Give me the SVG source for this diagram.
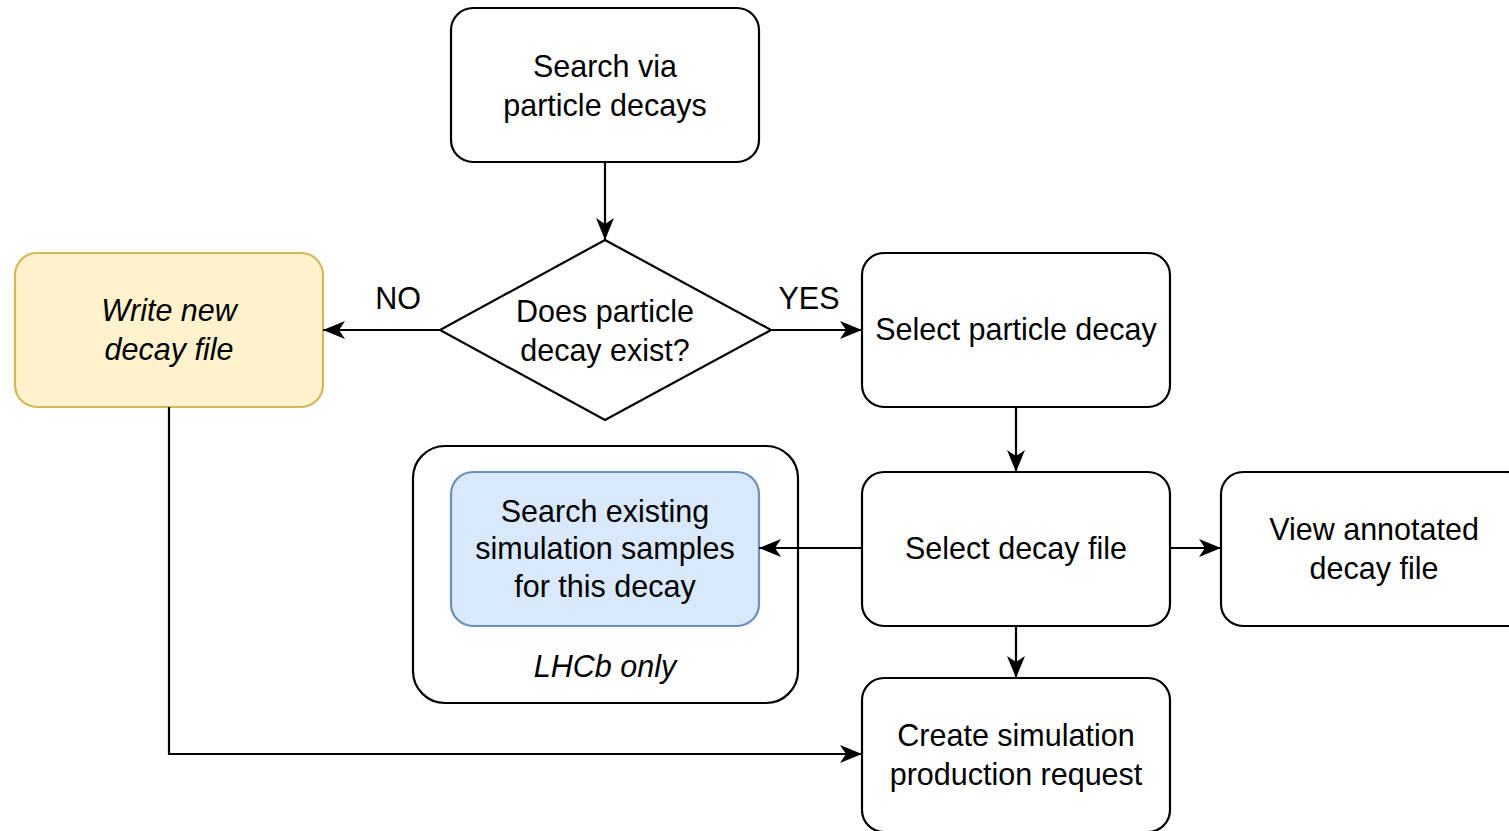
<svg xmlns="http://www.w3.org/2000/svg" width="1509" height="831" viewBox="0 0 1509 831">
<style>
.box{fill:#ffffff;stroke:#000000;stroke-width:2.2}
.yellow{fill:#fff2cc;stroke:#d6b656;stroke-width:2.2}
.blue{fill:#dae8fc;stroke:#6c8ebf;stroke-width:2.2}
.t{font-family:"Liberation Sans",Arial,sans-serif;font-size:30.5px;fill:#000000;text-anchor:middle}
.i{font-style:italic}
.edge{fill:none;stroke:#000000;stroke-width:2.2}
</style>
<defs>
<marker id="arr" markerUnits="userSpaceOnUse" viewBox="0 0 22 18" refX="22" refY="9" markerWidth="22" markerHeight="18" orient="auto">
<path d="M0,0 L22,9 L0,18 L6,9 Z" fill="#000000"/>
</marker>
</defs>
<rect width="1509" height="831" fill="#ffffff"/>
<g id="container">
<rect class="box" x="413" y="446" width="385" height="257" rx="32"/>
<text class="t i" x="605" y="677">LHCb only</text>
</g>
<g id="search-via">
<rect class="box" x="451" y="8" width="308" height="154" rx="22"/>
<text class="t" x="605" y="77">Search via</text>
<text class="t" x="605" y="116">particle decays</text>
</g>
<g id="decision">
<polygon class="box" points="605,240 771,330 605,420 440,330"/>
<text class="t" x="605" y="322">Does particle</text>
<text class="t" x="605" y="361">decay exist?</text>
</g>
<g id="write-new">
<rect class="yellow" x="15" y="253" width="308" height="154" rx="22"/>
<text class="t i" x="169" y="321">Write new</text>
<text class="t i" x="169" y="360">decay file</text>
</g>
<g id="select-particle">
<rect class="box" x="862" y="253" width="308" height="154" rx="22"/>
<text class="t" x="1016" y="340">Select particle decay</text>
</g>
<g id="select-file">
<rect class="box" x="862" y="472" width="308" height="154" rx="22"/>
<text class="t" x="1016" y="559">Select decay file</text>
</g>
<g id="search-existing">
<rect class="blue" x="451" y="472" width="308" height="154" rx="22"/>
<text class="t" x="605" y="522">Search existing</text>
<text class="t" x="605" y="559">simulation samples</text>
<text class="t" x="605" y="597">for this decay</text>
</g>
<g id="view-annotated">
<rect class="box" x="1221" y="472" width="308" height="154" rx="22"/>
<text class="t" x="1374" y="540">View annotated</text>
<text class="t" x="1374" y="579">decay file</text>
</g>
<g id="create-request">
<rect class="box" x="862" y="678" width="308" height="154" rx="22"/>
<text class="t" x="1016" y="746">Create simulation</text>
<text class="t" x="1016" y="785">production request</text>
</g>
<g id="connectors">
<path class="edge" d="M605,162 L605,240" marker-end="url(#arr)"/>
<path class="edge" d="M440,330 L323,330" marker-end="url(#arr)"/>
<path class="edge" d="M771,330 L862,330" marker-end="url(#arr)"/>
<path class="edge" d="M1016,407 L1016,472" marker-end="url(#arr)"/>
<path class="edge" d="M862,548 L759,548" marker-end="url(#arr)"/>
<path class="edge" d="M1170,548 L1221,548" marker-end="url(#arr)"/>
<path class="edge" d="M1016,626 L1016,678" marker-end="url(#arr)"/>
<path class="edge" d="M169,407 L169,754 L862,754" marker-end="url(#arr)"/>
<text class="t" x="398" y="309">NO</text>
<text class="t" x="809" y="309">YES</text>
</g>
</svg>
